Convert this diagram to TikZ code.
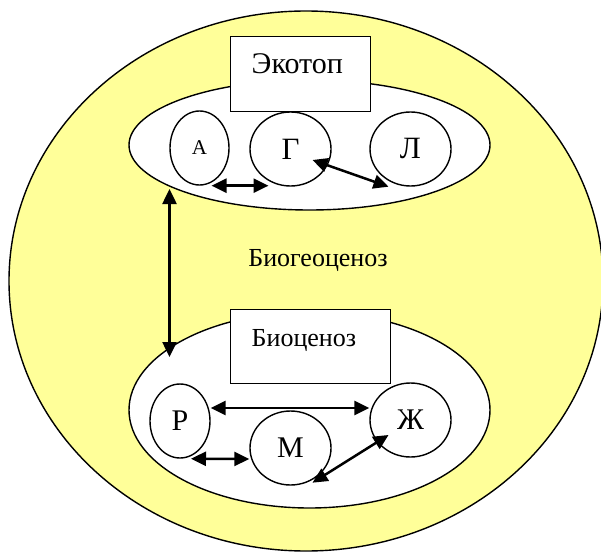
\documentclass[tikz,border=0pt]{standalone}
\usepackage{fontspec}
\setmainfont{Liberation Serif}
\usepackage{tikz}
\usetikzlibrary{shapes.geometric}
\usetikzlibrary{arrows.meta}

\definecolor{biopale}{RGB}{255,255,153}

\begin{document}
\begin{tikzpicture}[x=1pt,y=-1pt]
    \tikzstyle{zone}=[ellipse,draw=black,line width=1.4pt,fill=white,inner sep=0pt]
    \tikzstyle{part}=[ellipse,draw=black,line width=1.4pt,inner sep=0pt,minimum height=74pt,font=\fontsize{31}{31}\selectfont]
    \tikzstyle{titlebox}=[rectangle,draw=black,line width=1.4pt,fill=white,inner xsep=21pt,inner ysep=0pt,align=left,anchor=north west]
    \tikzstyle{conn}=[line width=2.5pt,{Triangle[length=15pt,width=14pt]}-{Triangle[length=15pt,width=14pt]}]

    \useasboundingbox (0,0) rectangle (601,553);

    \node[ellipse,draw=black,line width=1.4pt,fill=biopale,minimum width=594pt,minimum height=540pt] (bgc) at (306,281) {};
    \node[font=\fontsize{26}{26}\selectfont] (bgclabel) at (318,261) {Биогеоценоз};

    \node[zone,minimum width=361pt,minimum height=130pt] (ekozone) at (309.5,145) {};
    \node[zone,minimum width=361pt,minimum height=196pt] (biozone) at (309.5,410) {};

    \node[titlebox,text width=98pt,text height=37pt,text depth=38pt,font=\fontsize{30}{30}\selectfont] (ekotop) at (230,36) {Экотоп};
    \node[titlebox,text width=118pt,text height=37pt,text depth=37pt,font=\fontsize{26}{26}\selectfont] (biocenoz) at (230,309) {Биоценоз};

    \node[part,minimum width=59pt,font=\fontsize{21}{21}\selectfont] (a) at (199.5,148) {А};
    \node[part,minimum width=81pt] (g) at (290.5,149) {Г};
    \node[part,minimum width=81pt] (l) at (410.5,149) {Л};
    \node[part,minimum width=60pt,font=\fontsize{30}{30}\selectfont] (r) at (180,421) {Р};
    \node[part,minimum width=81pt,font=\fontsize{30}{30}\selectfont] (m) at (290.5,448) {М};
    \node[part,minimum width=81pt,font=\fontsize{30}{30}\selectfont] (zh) at (410.5,420) {Ж};

    \draw[conn] ([xshift=12pt]a.south) -- ([xshift=-22pt,yshift=1pt]g.south);
    \draw[conn] ([xshift=22pt,yshift=-11pt]g.center) -- ([xshift=-22pt]l.south);
    \draw[conn] ([xshift=-140pt,yshift=-44pt]ekozone.center) -- ([xshift=-140pt,yshift=53pt]biozone.center);
    \draw[conn] ([yshift=13pt]r.east) -- ([yshift=12pt]zh.west);
    \draw[conn] ([xshift=11pt]r.south) -- ([yshift=-11pt]m.west);
    \draw[conn] ([xshift=22pt,yshift=3pt]m.south) -- ([xshift=-22pt,yshift=-15pt]zh.center);

\end{tikzpicture}
\end{document}
